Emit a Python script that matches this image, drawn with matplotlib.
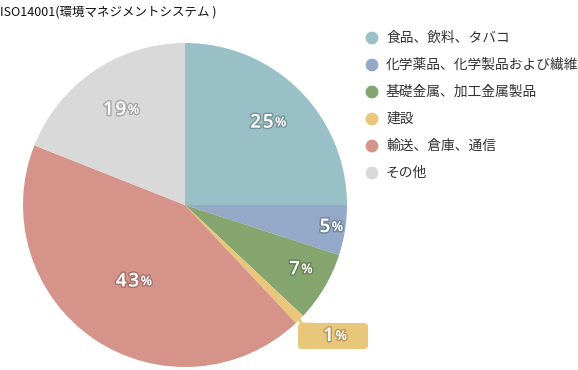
import matplotlib
matplotlib.use("Agg")
import matplotlib.pyplot as plt
import matplotlib.patheffects as pe
from matplotlib.patches import FancyBboxPatch
import numpy as np

plt.rcParams['font.family'] = ['Noto Sans CJK JP', 'DejaVu Sans']

title = "ISO14001(環境マネジメントシステム )"
categories = ["食品、飲料、タバコ", "化学薬品、化学製品および繊維", "基礎金属、加工金属製品",
              "建設", "輸送、倉庫、通信", "その他"]
values = [25, 5, 7, 1, 43, 19]
colors = ["#99c0c7", "#93a9c7", "#84a56e", "#e8c77a", "#d5938a", "#d9d9d9"]

# label radius fractions (style)
label_r = [0.72, 0.87, 0.78, None, 0.57, 0.71]

W, H = 578, 370
fig = plt.figure(figsize=(W / 100, H / 100), dpi=100)
ax = fig.add_axes([0, 0, 1, 1])

cx, cy, R = 185, H - 205, 162
wedges, _ = ax.pie(values, colors=colors, startangle=90, counterclock=False,
                   center=(cx, cy), radius=R, frame=True,
                   wedgeprops=dict(linewidth=0))
ax.set_xlim(0, W)
ax.set_ylim(0, H)
ax.set_aspect('equal')
ax.axis('off')

stroke = [pe.withStroke(linewidth=2.2, foreground=(0, 0, 0, 0.22))]
num_font = dict(color='white', fontweight='semibold',
                family=['Open Sans', 'DejaVu Sans'], path_effects=stroke)


def draw_label(x, y, v, z=4):
    ax.text(x + 6, y, "\u200a".join(str(v)), ha='right',
            va='center', fontsize=13.5, zorder=z, **num_font)
    ax.text(x + 7.5, y - 0.3, "%", ha='left', va='center', fontsize=9.5,
            zorder=z, **num_font)


for w, v, lr, c in zip(wedges, values, label_r, colors):
    mid = np.deg2rad((w.theta1 + w.theta2) / 2)
    if lr is not None:
        x = cx + lr * R * np.cos(mid)
        y = cy + lr * R * np.sin(mid)
        draw_label(x, y, v)
    else:
        ex = cx + R * np.cos(mid)
        ey = cy + R * np.sin(mid)
        bx, by, bw, bh = 298, H - 349, 70, 26
        ax.plot([ex - 2, bx + 4, bx + 16], [ey + 3, by + bh - 1, by + bh - 1],
                color=c, lw=2, solid_capstyle='butt', zorder=3)
        box = FancyBboxPatch((bx, by), bw, bh, boxstyle="round,pad=0,rounding_size=4",
                             fc=c, ec='none', zorder=3)
        ax.add_patch(box)
        draw_label(bx + bw / 2 - 5, by + bh / 2, v, z=5)

# legend
for i, (cat, c) in enumerate(zip(categories, colors)):
    y = H - (38 + 27 * i)
    ax.scatter([372], [y], s=85, color=c, edgecolors='none')
    ax.text(386, y, cat, ha='left', va='center', fontsize=9.9, color='#333333')

ax.text(0, H - 12, title, ha='left', va='center', fontsize=9, color='#111111')

fig.savefig("out.png", dpi=100)
